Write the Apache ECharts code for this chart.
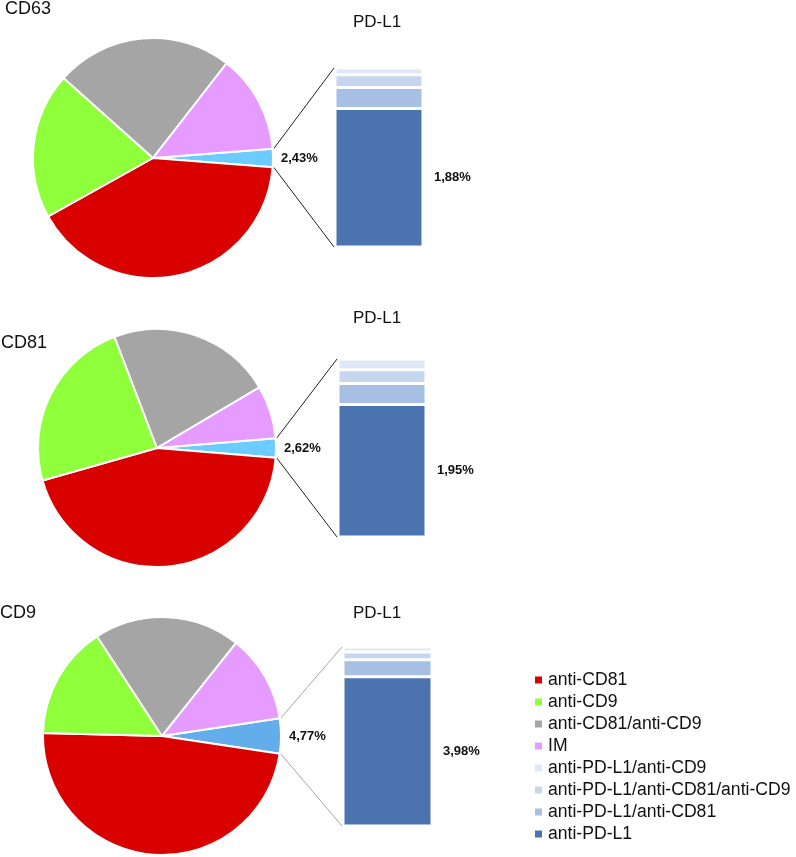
<!DOCTYPE html>
<html>
<head>
<meta charset="utf-8">
<script src="https://cdn.jsdelivr.net/npm/echarts@6/dist/echarts.min.js"></script>
<style>html,body{margin:0;padding:0;background:#fff}</style>
</head>
<body>
<div id="main" style="width:796px;height:857px"></div>
<script>
// data
var panels = ['CD63', 'CD81', 'CD9'];
var pieNames = ['anti-CD81', 'anti-CD9', 'anti-CD81/anti-CD9', 'IM'];
var pieCD63 = [40.7, 19.7, 23.9, 13.27];
var pieCD81 = [44.3, 23.6, 22.3, 7.2];
var pieCD9 = [48.0, 15.4, 19.9, 11.9];
var pdl1Total = [2.43, 2.62, 4.77];
// bar segments, bottom to top
var barNames = ['anti-PD-L1', 'anti-PD-L1/anti-CD81', 'anti-PD-L1/anti-CD81/anti-CD9', 'anti-PD-L1/anti-CD9'];
var barCD63 = [1.88, 0.285, 0.175, 0.09];
var barCD81 = [1.95, 0.31, 0.2, 0.16];
var barCD9 = [3.98, 0.45, 0.21, 0.13];
var legendOrder = ['anti-CD81', 'anti-CD9', 'anti-CD81/anti-CD9', 'IM',
  'anti-PD-L1/anti-CD9', 'anti-PD-L1/anti-CD81/anti-CD9', 'anti-PD-L1/anti-CD81', 'anti-PD-L1'];

var pieData = [pieCD63, pieCD81, pieCD9];
var barData = [barCD63, barCD81, barCD9];

// look
var pieColors = ['#d90000', '#8fff3c', '#a5a5a5', '#e59bff'];
var splitColors = ['#6ccbff', '#6ccbff', '#63aeea'];
var barColors = ['#4a73b0', '#a7bfe3', '#c5d6ee', '#dfe8f6'];
var lineColors = ['#222', '#222', '#a6a6a6'];
var pieCenters = [[153, 158], [157, 448], [162, 736]];
var pieRadius = [120, 119, 119];
var grids = [
  {left: 335, top: 68, width: 88, height: 179},
  {left: 338, top: 359, width: 88, height: 178},
  {left: 343, top: 647, width: 89, height: 179}
];
var panelTitlePos = [[5, 0], [1, 334], [0, 604]];
var barTitleTop = [14, 310, 605];
var FONT = '"Liberation Sans", Arial, sans-serif';

function pct(v) { return v.toFixed(2).replace('.', ',') + '%'; }

var chart = echarts.init(document.getElementById('main'));

var titles = [];
var series = [];
var xAxes = [];
var yAxes = [];

panels.forEach(function (p, i) {
  titles.push({text: p, left: panelTitlePos[i][0], top: panelTitlePos[i][1], padding: 0,
    textStyle: {fontFamily: FONT, fontSize: 18, fontWeight: 'normal', color: '#111'}});
  titles.push({text: 'PD-L1', left: 353, top: barTitleTop[i], padding: 0,
    textStyle: {fontFamily: FONT, fontSize: 17, fontWeight: 'normal', color: '#111'}});

  var sum = pdl1Total[i];
  pieData[i].forEach(function (v) { sum += v; });
  var data = [{
    name: 'PD-L1', value: pdl1Total[i],
    itemStyle: {color: splitColors[i]},
    label: {show: true, formatter: function (d) { return pct(d.value); }}
  }];
  pieNames.forEach(function (n, j) {
    data.push({name: n, value: pieData[i][j], itemStyle: {color: pieColors[j]}});
  });
  series.push({
    type: 'pie',
    center: pieCenters[i],
    radius: pieRadius[i],
    startAngle: pdl1Total[i] / sum * 180,
    clockwise: true,
    avoidLabelOverlap: false,
    animation: false,
    itemStyle: {borderColor: '#fff', borderWidth: 2},
    label: {show: false, position: 'outside', fontFamily: FONT, fontSize: 13, fontWeight: 'bold', color: '#111'},
    labelLine: {show: false, length: 3, length2: 0},
    emphasis: {disabled: true},
    data: data
  });

  xAxes.push({type: 'category', gridIndex: i, data: ['PD-L1'], show: false});
  yAxes.push({type: 'value', gridIndex: i, min: 0, max: pdl1Total[i], show: false});

  barNames.forEach(function (n, j) {
    series.push({
      type: 'bar',
      name: n,
      xAxisIndex: i,
      yAxisIndex: i,
      stack: 'pd' + i,
      barWidth: grids[i].width,
      animation: false,
      itemStyle: {color: barColors[j], borderColor: '#fff', borderWidth: 1.5},
      label: j === 0 ? {show: true, position: 'right', distance: 11, fontFamily: FONT,
        fontSize: 13, fontWeight: 'bold', color: '#111',
        formatter: function (d) { return pct(d.value); }} : {show: false},
      data: [barData[i][j]]
    });
  });
});

chart.setOption({
  backgroundColor: '#fff',
  animation: false,
  title: titles,
  legend: {
    data: legendOrder,
    orient: 'vertical',
    left: 533,
    top: 669,
    padding: 0,
    itemGap: 0,
    itemWidth: 9,
    itemHeight: 9,
    icon: 'rect',
    selectedMode: false,
    textStyle: {fontFamily: FONT, fontSize: 17.6, lineHeight: 22, color: '#111'}
  },
  grid: grids,
  xAxis: xAxes,
  yAxis: yAxes,
  series: series
});

// connector lines from the split slice to the bar
var lines = [];
panels.forEach(function (p, i) {
  var pieIdx = i * (barNames.length + 1);
  var lay = chart.getModel().getSeriesByIndex(pieIdx).getData().getItemLayout(0);
  var a = [lay.cx + lay.r * Math.cos(lay.startAngle), lay.cy + lay.r * Math.sin(lay.startAngle)];
  var b = [lay.cx + lay.r * Math.cos(lay.endAngle), lay.cy + lay.r * Math.sin(lay.endAngle)];
  var top = a[1] < b[1] ? a : b;
  var bot = a[1] < b[1] ? b : a;
  var pTop = chart.convertToPixel({gridIndex: i}, ['PD-L1', pdl1Total[i]]);
  var pBot = chart.convertToPixel({gridIndex: i}, ['PD-L1', 0]);
  var bx = pTop[0] - grids[i].width / 2;
  [[top, pTop[1]], [bot, pBot[1]]].forEach(function (s) {
    lines.push({
      type: 'line', silent: true,
      shape: {x1: s[0][0] + 1, y1: s[0][1], x2: bx - 1, y2: s[1]},
      style: {stroke: lineColors[i], lineWidth: 1}
    });
  });
});
chart.setOption({graphic: lines});
</script>
</body>
</html>
